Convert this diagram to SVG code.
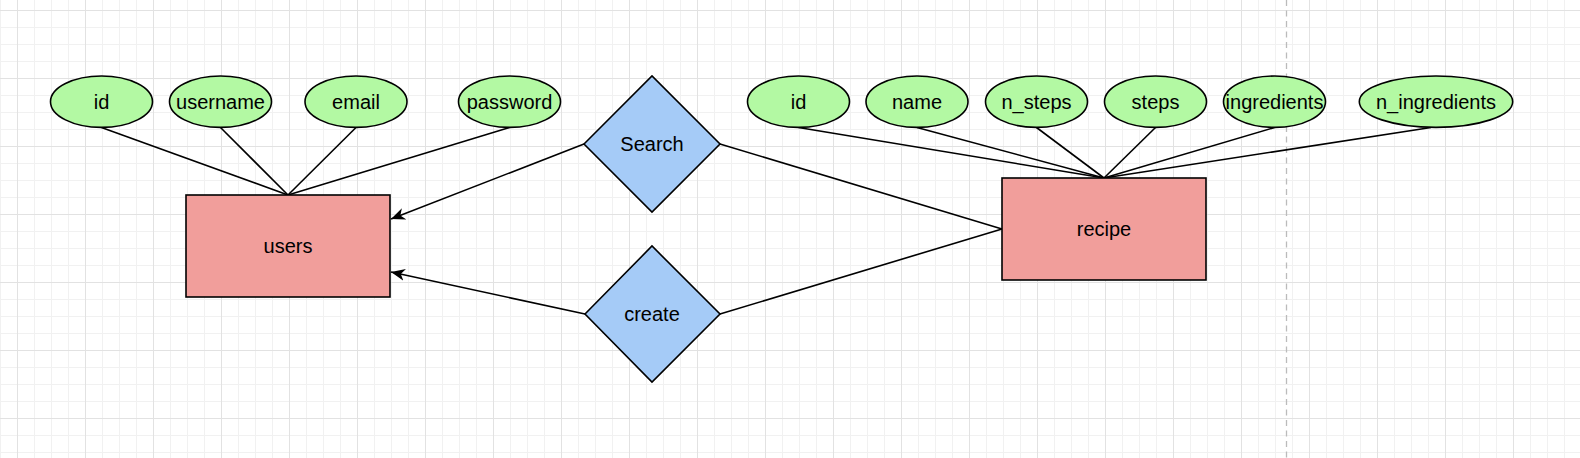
<svg xmlns="http://www.w3.org/2000/svg" width="1580" height="458" viewBox="0 0 1580 458">
<style>
.attr ellipse{fill:#b3f9a3;stroke:#000;stroke-width:1.6}
.ent rect{fill:#f19e9b;stroke:#000;stroke-width:1.6}
.rel polygon{fill:#a5cbf7;stroke:#000;stroke-width:1.6}
text{font-family:"Liberation Sans",Arial,sans-serif;font-size:20px;fill:#000;text-anchor:middle}
.edges line{stroke:#000;stroke-width:1.6}
</style>
<defs>
<pattern id="grid" patternUnits="userSpaceOnUse" x="17" y="10" width="68" height="68">
<path d="M17.5 0V68M34.5 0V68M51.5 0V68M0 17.5H68M0 34.5H68M0 51.5H68" stroke="#f1f1f1" stroke-width="1" fill="none"/>
<path d="M0.5 0V68M0 0.5H68" stroke="#e2e2e2" stroke-width="1" fill="none"/>
</pattern>
<marker id="arr" markerUnits="userSpaceOnUse" markerWidth="16" markerHeight="14" refX="14" refY="6" orient="auto">
<path d="M0,0 L14,6 L0,12 L4,6 Z" fill="#000"/>
</marker>
</defs>
<rect width="1580" height="458" fill="#fff"/>
<rect width="1580" height="458" fill="url(#grid)"/>
<line x1="1286.5" y1="0" x2="1286.5" y2="458" stroke="#bbb" stroke-width="1.3" stroke-dasharray="6 4.5"/>
<g class="edges">
<line x1="101.5" y1="127.5" x2="288" y2="195"/>
<line x1="220.5" y1="127.5" x2="288" y2="195"/>
<line x1="356" y1="127.5" x2="288" y2="195"/>
<line x1="509.5" y1="127.5" x2="288" y2="195"/>
<line x1="798.5" y1="127.5" x2="1104" y2="178"/>
<line x1="917" y1="127.5" x2="1104" y2="178"/>
<line x1="1036.5" y1="127.5" x2="1104" y2="178"/>
<line x1="1155.5" y1="127.5" x2="1104" y2="178"/>
<line x1="1274.5" y1="127.5" x2="1104" y2="178"/>
<line x1="1431" y1="127.5" x2="1104" y2="178"/>
<line x1="584" y1="144" x2="391" y2="219" marker-end="url(#arr)"/>
<line x1="585" y1="314" x2="391" y2="272" marker-end="url(#arr)"/>
<line x1="720" y1="144" x2="1002" y2="229"/>
<line x1="720" y1="314" x2="1002" y2="229"/>
</g>
<g id="users" class="ent"><rect x="186" y="195" width="204" height="102"/><text x="288" y="253">users</text></g>
<g id="recipe" class="ent"><rect x="1002" y="178" width="204" height="102"/><text x="1104" y="236">recipe</text></g>
<g id="search" class="rel"><polygon points="584,144 652,76 720,144 652,212"/><text x="652" y="151">Search</text></g>
<g id="create" class="rel"><polygon points="585,314 652,246 720,314 652,382"/><text x="652" y="321">create</text></g>
<g id="u_id" class="attr"><ellipse cx="101.5" cy="101.7" rx="51" ry="25.7"/><text x="101.5" y="109">id</text></g>
<g id="u_username" class="attr"><ellipse cx="220.5" cy="101.7" rx="51" ry="25.7"/><text x="220.5" y="109">username</text></g>
<g id="u_email" class="attr"><ellipse cx="356" cy="101.7" rx="51" ry="25.7"/><text x="356" y="109">email</text></g>
<g id="u_password" class="attr"><ellipse cx="509.5" cy="101.7" rx="51" ry="25.7"/><text x="509.5" y="109">password</text></g>
<g id="r_id" class="attr"><ellipse cx="798.5" cy="101.7" rx="51" ry="25.7"/><text x="798.5" y="109">id</text></g>
<g id="r_name" class="attr"><ellipse cx="917" cy="101.7" rx="51" ry="25.7"/><text x="917" y="109">name</text></g>
<g id="r_n_steps" class="attr"><ellipse cx="1036.5" cy="101.7" rx="51" ry="25.7"/><text x="1036.5" y="109">n_steps</text></g>
<g id="r_steps" class="attr"><ellipse cx="1155.5" cy="101.7" rx="51" ry="25.7"/><text x="1155.5" y="109">steps</text></g>
<g id="r_ingredients" class="attr"><ellipse cx="1274.5" cy="101.7" rx="51" ry="25.7"/><text x="1274.5" y="109">ingredients</text></g>
<g id="r_n_ingredients" class="attr"><ellipse cx="1436" cy="101.7" rx="76.7" ry="25.7"/><text x="1436" y="109">n_ingredients</text></g>
</svg>
